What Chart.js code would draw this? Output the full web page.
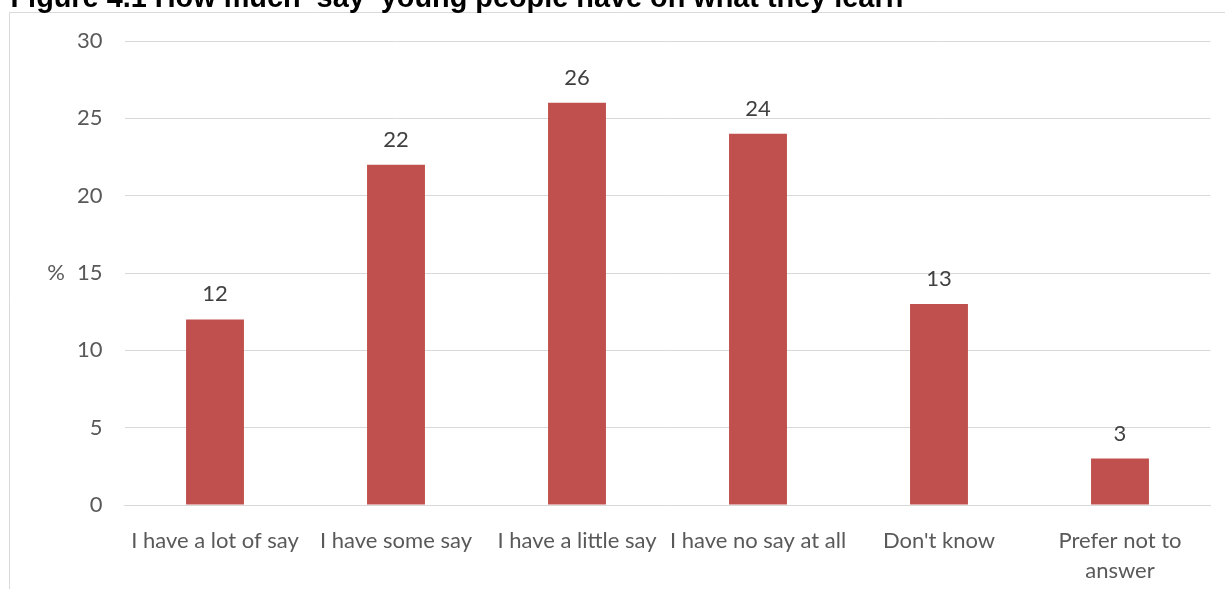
<!DOCTYPE html>
<html>
<head>
<meta charset="utf-8">
<script src="https://cdn.jsdelivr.net/npm/chart.js@4.4.1/dist/chart.umd.min.js"></script>
<style>
  html, body { margin: 0; padding: 0; background: #ffffff; }
  #wrap { position: relative; width: 1225px; height: 589px; overflow: hidden; }
</style>
</head>
<body>
<div id="wrap"><canvas id="chart"></canvas></div>
<script>
// Survey answers and their shares (%)
const categories = [
  'I have a lot of say',
  'I have some say',
  'I have a little say',
  'I have no say at all',
  "Don't know",
  ['Prefer not to', 'answer']
];
const percentValues = [12, 22, 26, 24, 13, 3];
const yTicks = [0, 5, 10, 15, 20, 25, 30];

const figureTitle = 'Figure 4.1 How much \u2018say\u2019 young people have on what they learn';
const yUnitLabel = '%';

const LABEL_FONT = 'Lato';
const LABEL_SIZE = 22;

// Frame, figure title, unit marker and value labels
const decorations = {
  id: 'decorations',
  beforeDraw(chart) {
    const ctx = chart.ctx;
    ctx.save();
    ctx.strokeStyle = '#d9d9d9';
    ctx.lineWidth = 1;
    ctx.beginPath();
    ctx.moveTo(9.5, 589);
    ctx.lineTo(9.5, 12.5);
    ctx.lineTo(1225, 12.5);
    ctx.stroke();
    ctx.restore();
  },
  afterDraw(chart) {
    const ctx = chart.ctx;
    ctx.save();
    // title
    ctx.fillStyle = '#000000';
    ctx.font = 'bold 28.85px "Liberation Sans", Arial, sans-serif';
    ctx.textAlign = 'left';
    ctx.textBaseline = 'alphabetic';
    ctx.fillText(figureTitle, 10.5, 7);

    // unit marker beside the value axis
    const y = chart.scales.y;
    ctx.fillStyle = '#595959';
    ctx.font = LABEL_SIZE + 'px ' + LABEL_FONT;
    ctx.textAlign = 'center';
    ctx.textBaseline = 'middle';
    ctx.fillText(yUnitLabel, 56, y.getPixelForValue(15));

    // value labels above the bars
    ctx.fillStyle = '#404040';
    ctx.textBaseline = 'alphabetic';
    const meta = chart.getDatasetMeta(0);
    meta.data.forEach((bar, i) => {
      ctx.fillText(String(percentValues[i]), bar.x, bar.y - 18);
    });
    ctx.restore();
  }
};

new Chart(document.getElementById('chart'), {
  type: 'bar',
  data: {
    labels: categories,
    datasets: [{
      data: percentValues,
      backgroundColor: '#c0504d',
      borderWidth: 0,
      barPercentage: 0.32,
      categoryPercentage: 1
    }]
  },
  options: {
    responsive: true,
    maintainAspectRatio: false,
    animation: false,
    devicePixelRatio: 1,
    layout: { padding: { top: 41, right: 14.5, left: 0, bottom: 0 } },
    plugins: {
      legend: { display: false },
      title: { display: false },
      tooltip: { enabled: false }
    },
    scales: {
      x: {
        grid: { display: false, drawTicks: false },
        border: { display: true, color: '#d9d9d9', width: 1 },
        ticks: {
          color: '#595959',
          font: { family: LABEL_FONT, size: LABEL_SIZE, lineHeight: 1.36 },
          padding: 21,
          maxRotation: 0,
          autoSkip: false
        },
        afterFit(scale) { scale.height = 84; }
      },
      y: {
        min: 0,
        max: 30,
        afterBuildTicks(scale) { scale.ticks = yTicks.map(v => ({ value: v })); },
        grid: { color: '#d9d9d9', lineWidth: 1, drawTicks: false },
        border: { display: false },
        ticks: {
          color: '#595959',
          font: { family: LABEL_FONT, size: LABEL_SIZE },
          padding: 22
        },
        afterFit(scale) { scale.width = 124.5; }
      }
    }
  },
  plugins: [decorations]
});
</script>
</body>
</html>
